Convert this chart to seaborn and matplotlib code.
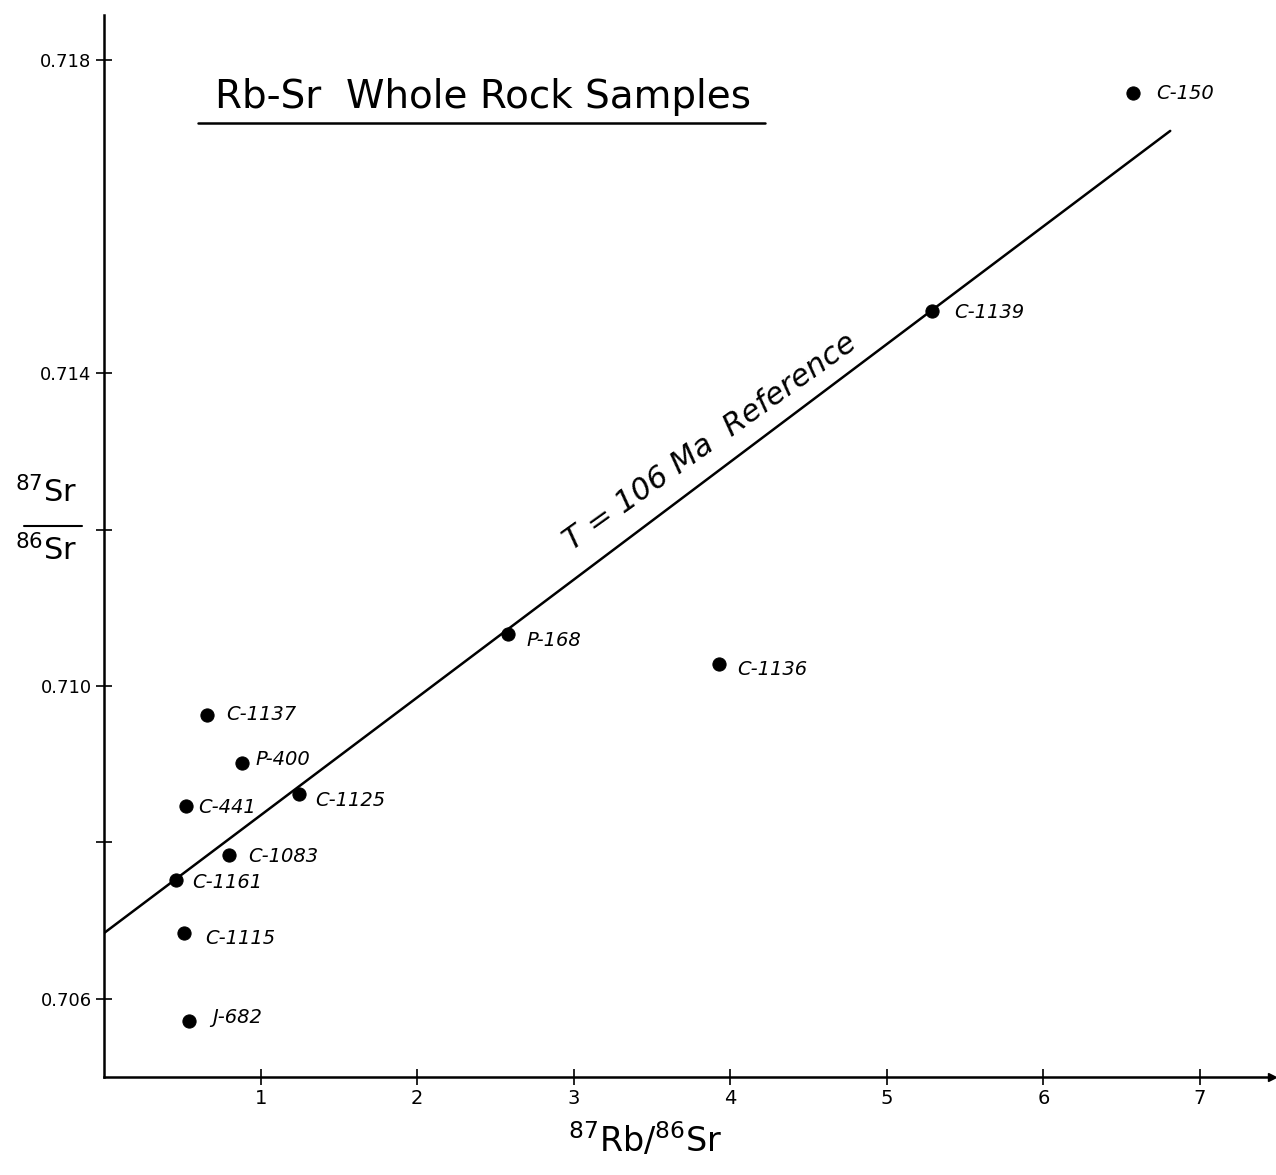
import numpy as np
import pandas as pd
import matplotlib.pyplot as plt
import seaborn as sns

# sample data
samples = ['C-150', 'C-1139', 'P-168', 'C-1136', 'C-1137', 'P-400', 'C-441',
           'C-1125', 'C-1083', 'C-1161', 'C-1115', 'J-682']
rb_sr = [6.57, 5.29, 2.58, 3.93, 0.655, 0.879, 0.521, 1.243, 0.796, 0.463, 0.514, 0.546]
sr_sr = [0.71758, 0.71479, 0.71067, 0.71028, 0.70963, 0.70901, 0.70846,
         0.70862, 0.70784, 0.70752, 0.70684, 0.70572]
# label offsets in points (dx, dy)
lab_dx = [17, 16, 13, 13, 14, 10, 9, 12, 14, 11, 15, 16]
lab_dy = [0, -1, -5, -4, 0, 3, -1, -5, -1, -2, -4, 2]

# reference isochron
ref_age_ma = 106
ref_sr0 = 0.70684
ref_xmax = 6.81
lam = 1.42e-11
slope = np.exp(lam * ref_age_ma * 1e6) - 1

yticks = [0.706, 0.708, 0.710, 0.712, 0.714, 0.718]
ytick_labels = ['0.706', '', '0.710', '', '0.714', '0.718']
xticks = [1, 2, 3, 4, 5, 6, 7]

df = pd.DataFrame({'rb': rb_sr, 'sr': sr_sr, 'name': samples})
line_df = pd.DataFrame({'rb': [0, ref_xmax], 'sr': [ref_sr0, ref_sr0 + slope * ref_xmax]})

sns.set_style('ticks')
plt.rcParams['font.family'] = ['DejaVu Sans']
plt.rcParams['mathtext.default'] = 'regular'
plt.rcParams['text.color'] = 'black'
plt.rcParams['xtick.color'] = 'black'
plt.rcParams['ytick.color'] = 'black'
plt.rcParams['axes.edgecolor'] = 'black'

fig = plt.figure(figsize=(12.76, 11.75), dpi=100)
ax = fig.add_axes([104 / 1276, 98 / 1175, 1168 / 1276, 1062 / 1175])

sns.lineplot(data=line_df, x='rb', y='sr', color='black', linewidth=1.8, ax=ax)
sns.scatterplot(data=df, x='rb', y='sr', color='black', s=90, edgecolor='black', ax=ax, zorder=3)

for name, x, y, dx, dy in zip(samples, rb_sr, sr_sr, lab_dx, lab_dy):
    ax.annotate(name, (x, y), xytext=(dx, dy), textcoords='offset points',
                ha='left', va='center', fontsize=14, style='italic')

ax.set_xlim(0, 7.46)
ax.set_ylim(0.705, 0.71858)
ax.set_xticks(xticks)
ax.set_xticklabels([str(t) for t in xticks], fontsize=14)
ax.set_yticks(yticks)
ax.set_yticklabels(ytick_labels, fontsize=13)
ax.tick_params(direction='inout', length=12, width=1.2, pad=3)
sns.despine(ax=ax)
for s in ['left', 'bottom']:
    ax.spines[s].set_linewidth(1.8)
ax.set_xlabel('')
ax.set_ylabel('')
ax.plot(1, 0, '>k', transform=ax.transAxes, clip_on=False, markersize=6)

# isochron label
ax.text(3.875, 0.71312, 'T = %d Ma  Reference' % ref_age_ma, rotation=35.5,
        ha='center', va='center', fontsize=22, style='italic', rotation_mode='anchor')

# title with underline
fig.text(483 / 1276, 1 - 97 / 1175, 'Rb-Sr  Whole Rock Samples', ha='center', va='center', fontsize=28)
fig.add_artist(plt.Line2D([198 / 1276, 765 / 1276], [1 - 123 / 1175] * 2, color='black', linewidth=1.8))

# axis labels
fig.text(645 / 1276, 1 - 1140 / 1175, r'$^{87}$Rb/$^{86}$Sr', ha='center', va='center', fontsize=24)
fig.text(46 / 1276, 1 - 492 / 1175, r'$^{87}$Sr', ha='center', va='center', fontsize=22)
fig.text(46 / 1276, 1 - 550 / 1175, r'$^{86}$Sr', ha='center', va='center', fontsize=22)
fig.add_artist(plt.Line2D([24 / 1276, 82 / 1276], [1 - 526 / 1175] * 2, color='black', linewidth=1.5))

fig.savefig('out.png', dpi=100)
